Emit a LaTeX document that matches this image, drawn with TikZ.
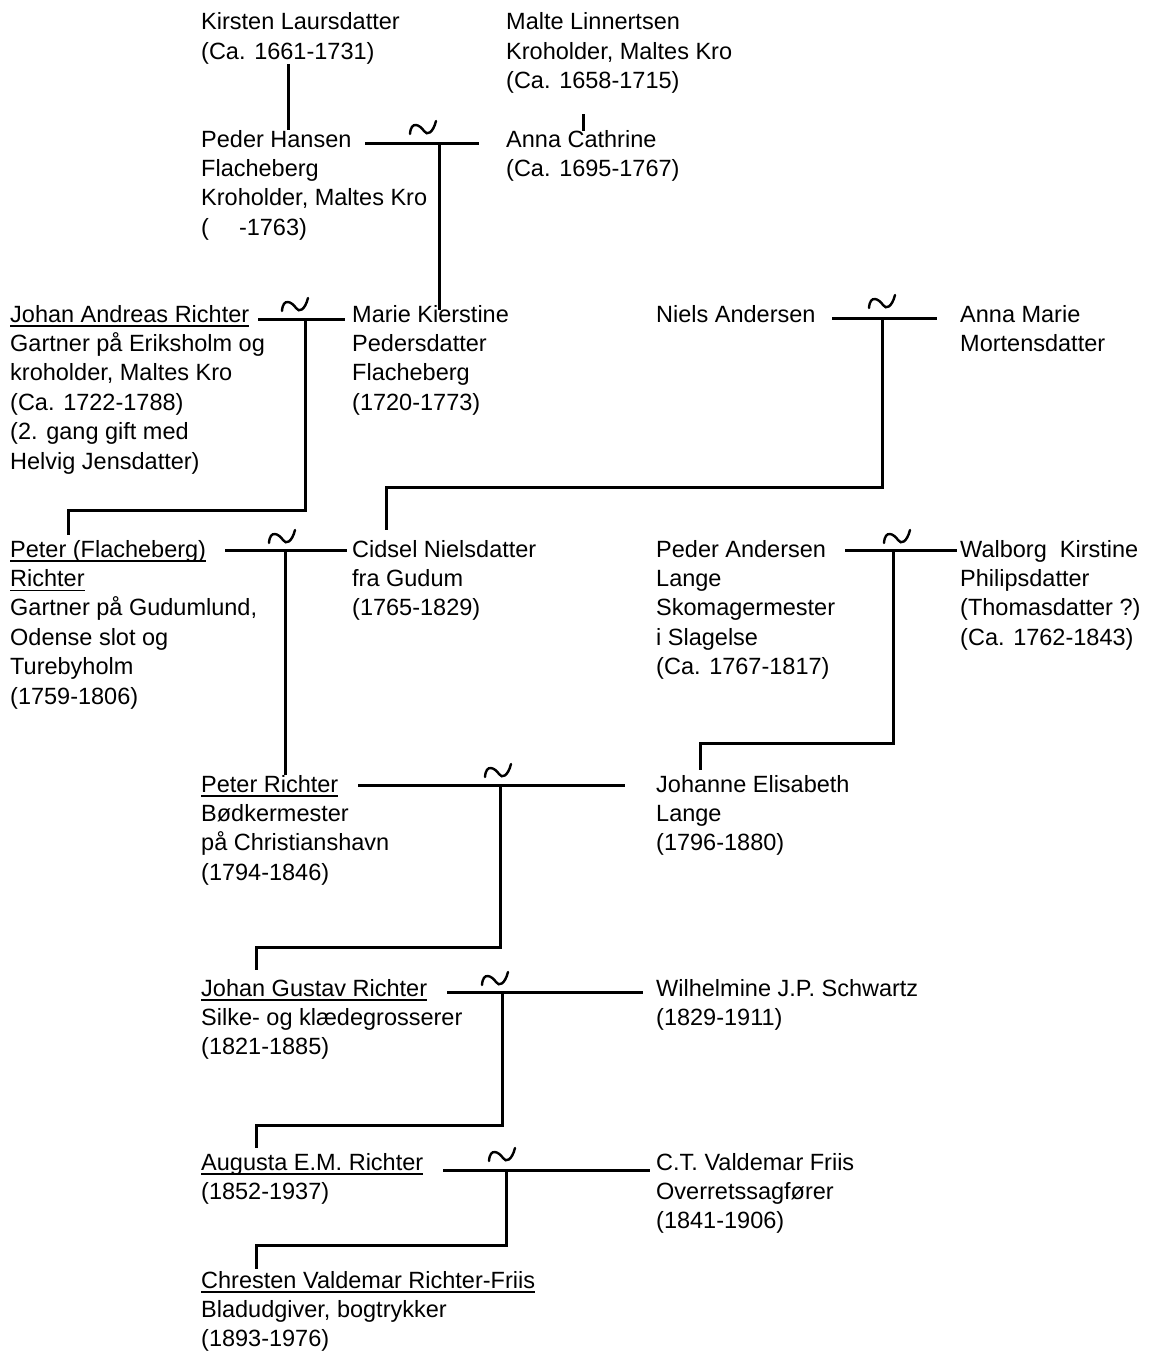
\documentclass[tikz,border=0pt]{standalone}
\usepackage{fontspec}
\setmainfont{Liberation Sans}
\newsavebox\ulbox
\newcommand\ulname[1]{\sbox\ulbox{#1}\rlap{\rule[-5pt]{\wd\ulbox}{1.7pt}}\usebox\ulbox}
\newcommand\persfont{\fontsize{23.5}{29.4}\selectfont}
\newcommand\perstext[1]{\begin{tabular}[t]{@{}l@{}}#1\end{tabular}}
\tikzset{
  person/.style={anchor=base west, inner sep=0pt, font=\persfont},
  bar/.style={line width=3pt},
  tildepic/.pic={\draw[line width=2.4pt, line cap=round] (-13,6) .. controls (-12,-8) and (-3,-3) .. (1,3) .. controls (4,8) and (10,5) .. (13,-7);}
}
\begin{document}
\begin{tikzpicture}[x=1pt,y=-1pt]
\useasboundingbox (0,0) rectangle (1153,1354);
% persons
\node[person] (kirsten) at (201,30) {\perstext{Kirsten Laursdatter\\(Ca. 1661-1731)}};
\node[person] (malte) at (506,30) {\perstext{Malte Linnertsen\\Kroholder, Maltes Kro\\(Ca. 1658-1715)}};
\node[person] (pederh) at (201,147) {\perstext{Peder Hansen\\Flacheberg\\Kroholder, Maltes Kro\\(\hspace*{30pt}-1763)}};
\node[person] (annac) at (506,147) {\perstext{Anna Cathrine\\(Ca. 1695-1767)}};
\node[person] (johana) at (10,322) {\perstext{\ulname{Johan Andreas Richter}\\Gartner på Eriksholm og\\kroholder, Maltes Kro\\(Ca. 1722-1788)\\(2. gang gift med\\Helvig Jensdatter)}};
\node[person] (marie) at (352,322) {\perstext{Marie Kierstine\\Pedersdatter\\Flacheberg\\(1720-1773)}};
\node[person] (niels) at (656,322) {\perstext{Niels Andersen}};
\node[person] (annam) at (960,322) {\perstext{Anna Marie\\Mortensdatter}};
\node[person] (peterf) at (10,557) {\perstext{\ulname{Peter (Flacheberg)}\\\ulname{Richter}\\Gartner på Gudumlund,\\Odense slot og\\Turebyholm\\(1759-1806)}};
\node[person] (cidsel) at (352,557) {\perstext{Cidsel Nielsdatter\\fra Gudum\\(1765-1829)}};
\node[person] (pedera) at (656,557) {\perstext{Peder Andersen\\Lange\\Skomagermester\\i Slagelse\\(Ca. 1767-1817)}};
\node[person] (walborg) at (960,557) {\perstext{Walborg\ \ Kirstine\\Philipsdatter\\(Thomasdatter ?)\\(Ca. 1762-1843)}};
\node[person] (peterr) at (201,792) {\perstext{\ulname{Peter Richter}\\Bødkermester\\på Christianshavn\\(1794-1846)}};
\node[person] (johanne) at (656,792) {\perstext{Johanne Elisabeth\\Lange\\(1796-1880)}};
\node[person] (johang) at (201,996) {\perstext{\ulname{Johan Gustav Richter}\\Silke- og klædegrosserer\\(1821-1885)}};
\node[person] (wilh) at (656,996) {\perstext{Wilhelmine J.P. Schwartz\\(1829-1911)}};
\node[person] (augusta) at (201,1170) {\perstext{\ulname{Augusta E.M. Richter}\\(1852-1937)}};
\node[person] (ct) at (656,1170) {\perstext{C.T. Valdemar Friis\\Overretssagfører\\(1841-1906)}};
\node[person] (chresten) at (201,1288) {\perstext{\ulname{Chresten Valdemar Richter-Friis}\\Bladudgiver, bogtrykker\\(1893-1976)}};

% parent lines
\coordinate (k1) at (288,64); \coordinate (k2) at (288,130);
\draw[bar] (k1) -- (k2);
\coordinate (ml1) at (583,114); \coordinate (ml2) at (583,131);
\draw[bar] (ml1) -- (ml2);

% marriage 1
\coordinate (m1l) at (365,143); \coordinate (m1r) at (479,143);
\coordinate (m1) at (439,143); \coordinate (m1c) at (439,310);
\draw[bar] (m1l) -- (m1r);
\draw[bar] (m1) -- (m1c);
\pic at (423,128) {tildepic};

% marriage 2
\coordinate (m2l) at (258,319); \coordinate (m2r) at (345,319);
\coordinate (m2) at (305,319); \coordinate (m2c) at (68,535);
\draw[bar] (m2l) -- (m2r);
\draw[bar] (m2) -- (305,510) -| (m2c);
\pic at (295,305) {tildepic};

% marriage 3
\coordinate (m3l) at (832,318); \coordinate (m3r) at (937,318);
\coordinate (m3) at (882,318); \coordinate (m3c) at (386,530);
\draw[bar] (m3l) -- (m3r);
\draw[bar] (m3) -- (882,487) -| (m3c);
\pic at (882,302) {tildepic};

% marriage 4
\coordinate (m4l) at (225,550); \coordinate (m4r) at (347,550);
\coordinate (m4) at (285,550); \coordinate (m4c) at (285,775);
\draw[bar] (m4l) -- (m4r);
\draw[bar] (m4) -- (m4c);
\pic at (282,537) {tildepic};

% marriage 5
\coordinate (m5l) at (845,550); \coordinate (m5r) at (957,550);
\coordinate (m5) at (893,550); \coordinate (m5c) at (700,770);
\draw[bar] (m5l) -- (m5r);
\draw[bar] (m5) -- (893,743) -| (m5c);
\pic at (897,537) {tildepic};

% marriage 6
\coordinate (m6l) at (358,785); \coordinate (m6r) at (625,785);
\coordinate (m6) at (500,785); \coordinate (m6c) at (256,970);
\draw[bar] (m6l) -- (m6r);
\draw[bar] (m6) -- (500,947) -| (m6c);
\pic at (498,771) {tildepic};

% marriage 7
\coordinate (m7l) at (447,992); \coordinate (m7r) at (643,992);
\coordinate (m7) at (502,992); \coordinate (m7c) at (256,1148);
\draw[bar] (m7l) -- (m7r);
\draw[bar] (m7) -- (502,1125) -| (m7c);
\pic at (495,979) {tildepic};

% marriage 8
\coordinate (m8l) at (443,1170); \coordinate (m8r) at (650,1170);
\coordinate (m8) at (506,1170); \coordinate (m8c) at (256,1269);
\draw[bar] (m8l) -- (m8r);
\draw[bar] (m8) -- (506,1245) -| (m8c);
\pic at (502,1155) {tildepic};
\end{tikzpicture}
\end{document}
